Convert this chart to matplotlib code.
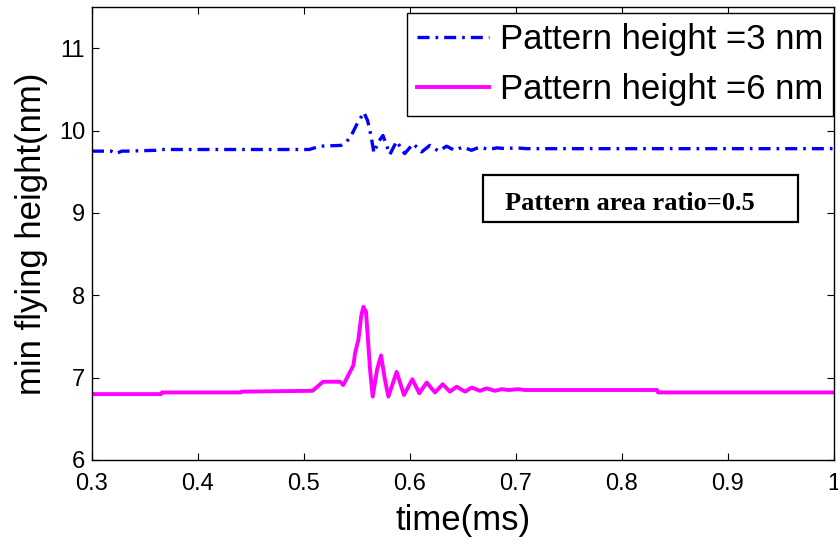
import matplotlib
matplotlib.use("Agg")
import matplotlib.pyplot as plt
from matplotlib.patches import Rectangle

# ---- data ----
blue_t = [0.300, 0.318, 0.323, 0.328, 0.333, 0.360, 0.365, 0.505, 0.515, 0.535,
          0.540, 0.545, 0.550, 0.5565, 0.5600, 0.5630, 0.5660, 0.5700, 0.5745,
          0.5810, 0.5874, 0.5950, 0.6030, 0.6110, 0.6187, 0.6270, 0.6345,
          0.6420, 0.6500, 0.6580, 0.6660, 0.6740, 0.6820, 0.6900, 0.7000,
          0.7100, 1.000]
blue_h = [9.75, 9.75, 9.72, 9.75, 9.75, 9.76, 9.77, 9.77, 9.81, 9.82,
          9.86, 9.95, 10.08, 10.22, 10.12, 9.95, 9.73, 9.86, 9.94,
          9.71, 9.87, 9.72, 9.84, 9.74, 9.82, 9.75, 9.81, 9.76, 9.80,
          9.76, 9.80, 9.77, 9.79, 9.78, 9.79, 9.78, 9.78]

mag_t = [0.300, 0.365, 0.366, 0.440, 0.441, 0.508, 0.518, 0.534, 0.537, 0.5403,
         0.5434, 0.5466, 0.5482, 0.5513, 0.5540, 0.5560, 0.5585, 0.5607, 0.5623,
         0.5648, 0.5690, 0.5727, 0.5760, 0.5796, 0.5874, 0.5943, 0.6022, 0.6088,
         0.6157, 0.6236, 0.6308, 0.6377, 0.6440, 0.6519, 0.6582, 0.6660, 0.6723,
         0.6800, 0.6865, 0.6930, 0.7022, 0.7080, 0.833, 0.834, 1.000]
mag_h = [6.80, 6.80, 6.82, 6.82, 6.83, 6.84, 6.95, 6.95, 6.91, 6.99,
         7.07, 7.15, 7.30, 7.46, 7.75, 7.86, 7.80, 7.40, 7.10,
         6.77, 7.10, 7.27, 7.00, 6.77, 7.07, 6.79, 6.98, 6.81,
         6.94, 6.82, 6.92, 6.83, 6.89, 6.83, 6.88, 6.84, 6.87,
         6.84, 6.86, 6.85, 6.86, 6.85, 6.85, 6.82, 6.82]

labels = ["Pattern height =3 nm", "Pattern height =6 nm"]
xticks = [0.3, 0.4, 0.5, 0.6, 0.7, 0.8, 0.9, 1.0]
xticklabels = ["0.3", "0.4", "0.5", "0.6", "0.7", "0.8", "0.9", "1"]
yticks = [6, 7, 8, 9, 10, 11]
annot = "Pattern area ratio=0.5"

plt.rcParams['font.family'] = ['Liberation Sans', 'DejaVu Sans']

fig = plt.figure(figsize=(8.38, 5.42), dpi=100)
ax = fig.add_axes([92/838, 1-460/542, (834-92)/838, (460-7)/542])

ax.plot(blue_t, blue_h, color='#0000ff', lw=2.4,
        linestyle=(0, (3.6, 1.8, 0.8, 1.8)), label=labels[0])
ax.plot(mag_t, mag_h, color='#ff00ff', lw=2.8, linestyle='-', label=labels[1])

ax.set_xlim(0.3, 1.0)
ax.set_ylim(6, 11.5)
ax.set_xticks(xticks)
ax.set_xticklabels(xticklabels)
ax.set_yticks(yticks)
ax.tick_params(direction='in', length=5, width=0.8, top=True, right=True,
               labelsize=17)
ax.tick_params(axis='x', pad=9)
ax.tick_params(axis='y', pad=5)
for s in ax.spines.values():
    s.set_linewidth(1.0)

ax.set_xlabel("time(ms)", fontsize=25, labelpad=7)
ax.set_ylabel("min flying height(nm)", fontsize=25, labelpad=8)

leg = ax.legend(loc='upper right', bbox_to_anchor=(1 - 1/742, 1 - 6/453),
                borderaxespad=0, fontsize=25, handlelength=2.1,
                handletextpad=0.3, labelspacing=0.5, borderpad=0.28,
                fancybox=False, framealpha=1, edgecolor='black')
leg.get_frame().set_linewidth(1.0)

ax.add_patch(Rectangle((0.527, 0.5254), 0.9515-0.527, 0.629-0.5254,
                       transform=ax.transAxes, fill=False, edgecolor='black',
                       lw=1.6, zorder=5))
ax.text(0.5566, 0.5519, annot, transform=ax.transAxes, fontsize=19,
        fontweight='bold', family=['Liberation Serif', 'DejaVu Serif'],
        va='baseline', ha='left', zorder=6)

fig.savefig("out.png", dpi=100)
